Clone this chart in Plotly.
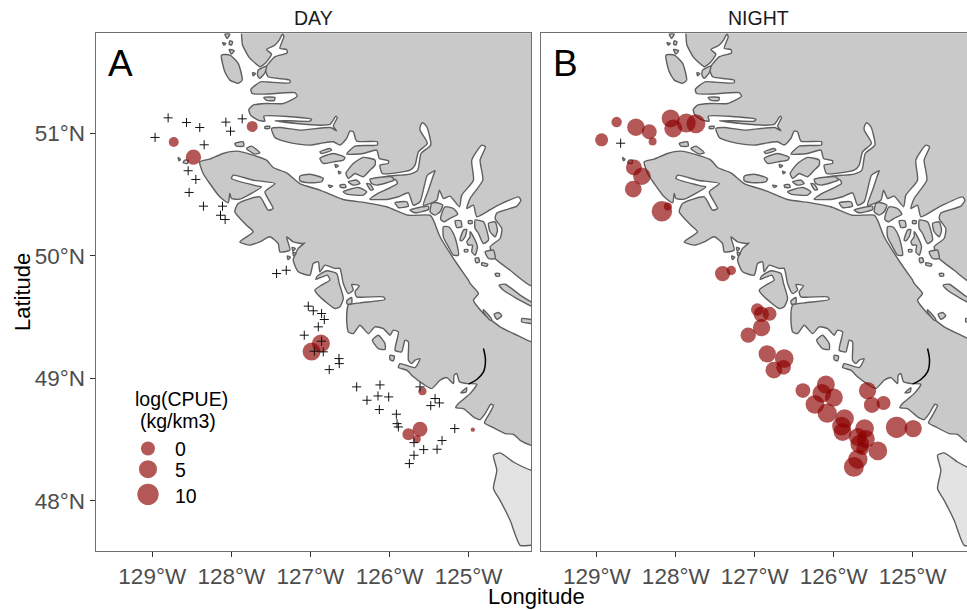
import math
import plotly.graph_objects as go

# ---------------- coastline (lon, lat) ----------------
MAINLAND = [(-127.892,51.816),(-127.879,51.721),(-127.796,51.620),(-127.717,51.571),(-127.663,51.544),(-127.588,51.577),(-127.517,51.647),(-127.579,51.685),(-127.483,51.718),(-127.421,51.762),(-127.379,51.811),(-127.363,51.789),(-127.413,51.694),(-127.329,51.685),(-127.321,51.658),(-127.471,51.626),(-127.546,51.577),(-127.596,51.530),(-127.558,51.462),(-127.288,51.435),(-127.288,51.413),(-127.558,51.419),(-127.654,51.421),(-127.775,51.359),(-127.758,51.326),(-127.579,51.321),(-127.225,51.332),(-127.196,51.304),(-127.371,51.244),(-127.579,51.244),(-127.746,51.231),(-127.8,51.195),(-127.779,51.149),(-127.683,51.108),(-127.6,51.100),(-127.613,51.141),(-127.288,51.136),(-127.017,51.116),(-127.038,51.100),(-127.288,51.103),(-127.475,51.103),(-127.204,51.081),(-126.913,51.067),(-126.788,51.073),(-126.713,51.141),(-126.696,51.130),(-126.746,51.059),(-126.704,51.021),(-126.779,51.048),(-127.163,51.027),(-127.413,51.048),(-127.517,51.040),(-127.475,50.967),(-127.329,50.931),(-127.183,50.912),(-127.017,50.905),
 (-126.913,50.918),(-126.746,50.932),(-126.663,50.905),(-126.579,50.959),(-126.538,51.019),(-126.496,51.013),(-126.454,50.937),(-126.196,50.932),(-126.196,50.905),(-126.475,50.896),(-126.579,50.831),(-126.371,50.836),(-126.204,50.864),(-126.171,50.796),(-126.058,50.777),(-126.058,50.755),(-126.163,50.741),(-126.133,50.673),(-125.788,50.700),(-125.725,50.741),(-125.683,50.850),(-125.571,50.918),(-125.663,51.027),(-125.654,51.068),(-125.629,51.087),(-125.579,51.054),(-125.529,50.905),(-125.65,50.836),(-125.692,50.700),(-125.788,50.668),(-126.121,50.646),(-125.963,50.619),(-125.946,50.591),(-126.204,50.504),(-126.288,50.463),(-126.058,50.463),(-125.933,50.483),(-125.808,50.515),(-125.746,50.414),(-125.663,50.442),(-125.571,50.659),(-125.475,50.695),(-125.496,50.659),(-125.558,50.537),(-125.621,50.414),
 (-125.454,50.455),(-125.421,50.537),(-125.371,50.469),(-125.288,50.488),(-125.171,50.401),(-125.142,50.496),(-124.996,50.618),(-125.017,50.782),(-124.892,50.904),(-124.846,50.891),(-124.913,50.782),(-124.879,50.618),(-125.038,50.469),(-125.079,50.387),(-124.996,50.414),(-124.954,50.319),(-124.725,50.401),(-124.433,50.482),(-124.404,50.455),(-124.454,50.406),(-124.704,50.351),(-124.725,50.305),(-124.642,50.224),(-124.663,50.142),(-124.788,50.074),(-124.725,49.979),(-124.538,49.883),(-124.275,49.755),(-123.9,49.755),(-123.9,52.1),(-127.892,52.1)]

VANCOUVER_ISLAND = [(-128.413,50.768),(-128.288,50.790),(-128.121,50.836),(-127.954,50.855),(-127.746,50.822),(-127.579,50.782),(-127.496,50.722),(-127.329,50.678),(-127.163,50.591),(-126.913,50.537),(-126.621,50.460),(-126.329,50.433),(-126.079,50.401),(-125.808,50.332),(-125.538,50.332),(-125.496,50.292),(-125.413,50.156),(-125.204,49.938),(-125.058,49.802),(-125.038,49.775),(-124.933,49.693),(-124.996,49.639),(-124.871,49.530),(-124.663,49.421),(-124.454,49.353),(-124.275,49.298),(-123.9,49.258),(-123.9,48.400),(-124.275,48.454),(-124.413,48.495),(-124.496,48.544),(-124.6,48.550),(-124.767,48.604),(-124.858,48.637),(-124.808,48.700),(-124.746,48.781),(-124.779,48.789),(-124.85,48.713),(-124.913,48.664),(-124.996,48.686),(-125.121,48.754),(-125.217,48.762),(-125.183,48.795),(-125.038,48.876),(-124.954,48.953),(-125.079,48.958),(-125.171,48.972),(-125.204,49.040),(-125.238,49.026),(-125.246,48.958),(-125.329,49.007),(-125.413,48.985),(-125.517,48.917),(-125.621,48.953),(-125.746,49.013),(-125.829,49.067),(-125.933,49.089),(-125.913,49.121),(-125.725,49.089),(-125.663,49.162),(-125.725,49.149),(-125.767,49.121),(-125.808,49.149),(-125.808,49.298),(-125.85,49.312),(-125.892,49.217),(-125.975,49.230),(-125.933,49.380),(-125.996,49.394),(-126.038,49.353),(-126.121,49.407),(-126.225,49.421),(-126.308,49.366),(-126.413,49.434),(-126.496,49.366),(-126.558,49.380),
 (-126.579,49.476),(-126.558,49.598),(-126.413,49.617),(-126.1,49.644),(-126.121,49.666),(-126.454,49.666),(-126.475,49.707),(-126.421,49.756),(-126.517,49.767),(-126.496,49.721),(-126.558,49.693),(-126.621,49.775),(-126.663,49.898),(-126.725,49.898),(-126.85,49.925),(-126.913,49.870),(-126.933,49.952),(-126.996,49.938),(-127.038,49.843),(-127.183,49.870),(-127.246,49.966),(-127.183,50.061),(-127.100,50.107),
 (-127.121,50.101),(-127.246,50.115),(-127.329,50.156),(-127.288,50.047),(-127.413,50.033),(-127.433,50.101),(-127.538,50.156),(-127.663,50.115),(-127.788,50.088),(-127.913,50.115),(-127.746,50.196),(-127.829,50.251),(-127.975,50.360),(-127.933,50.428),(-127.663,50.482),(-127.558,50.373),(-127.496,50.387),(-127.6,50.523),(-127.475,50.591),(-127.746,50.618),(-127.996,50.659),(-128.017,50.632),(-127.704,50.572),(-127.642,50.564),(-127.913,50.463),(-128.017,50.469),(-128.038,50.509),(-128.058,50.433),(-128.163,50.482),(-128.288,50.591),(-128.371,50.673),(-128.413,50.768)]

WASHINGTON = [(-124.746,48.373),(-124.663,48.392),(-124.496,48.318),(-124.275,48.250),(-123.9,48.196),(-123.9,47.638),(-124.275,47.638),(-124.413,47.638),(-124.538,47.842),(-124.663,48.005),(-124.746,48.101),(-124.704,48.250),(-124.746,48.373)]

ISLANDS = [
 [(-128.142,51.639),(-128.037,51.639),(-127.933,51.571),(-127.883,51.435),(-127.933,51.408),(-128.037,51.435),(-128.1,51.503)],
 [(-128.1,51.811),(-128.037,51.811),(-128.071,51.775)],
 [(-128.037,51.756),(-128.004,51.748),(-128.017,51.721),(-128.046,51.729)],
 [(-128.129,51.740),(-128.087,51.734),(-128.113,51.721)],
 [(-128.046,51.685),(-127.983,51.675),(-128.017,51.647)],
 [(-127.754,51.495),(-127.717,51.489),(-127.746,51.470)],
 [(-127.683,51.517),(-127.579,51.549),(-127.6,51.495),(-127.663,51.449),(-127.692,51.476)],
 [(-127.613,51.293),(-127.475,51.293),(-127.483,51.269),(-127.579,51.269)],
 [(-127.975,50.918),(-127.871,50.931),(-127.863,50.896),(-127.954,50.896)],
 [(-127.829,50.877),(-127.767,50.896),(-127.663,50.842),(-127.725,50.831)],
 [(-127.6,51.054),(-127.538,51.059),(-127.546,51.040),(-127.6,51.040)],
 [(-128.683,50.803),(-128.654,50.787),(-128.671,50.776)],
 [(-128.6,50.782),(-128.558,50.782),(-128.567,50.754),(-128.621,50.760)],
 [(-127.26,50.07),(-127.22,50.06),(-127.25,50.04)],
 [(-127.32,50.00),(-127.28,49.99),(-127.31,49.97)],
 [(-127.25,50.03),(-127.21,50.02),(-127.24,50.00)],
 # Johnstone Strait and Discovery Islands
 [(-126.913,50.850),(-126.788,50.877),(-126.767,50.864),(-126.892,50.836)],
 [(-126.913,50.796),(-126.746,50.836),(-126.6,50.804),(-126.621,50.782),(-126.746,50.768),(-126.871,50.755)],
 [(-126.725,50.747),(-126.683,50.736),(-126.713,50.722)],
 [(-126.683,50.692),(-126.65,50.681),(-126.675,50.670)],
 [(-126.588,50.673),(-126.496,50.755),(-126.371,50.804),(-126.225,50.782),(-126.225,50.741),(-126.288,50.700),(-126.371,50.646),(-126.475,50.673),(-126.558,50.632)],
 [(-127.163,50.651),(-127.038,50.667),(-126.871,50.632),(-126.892,50.605),(-127.038,50.597),(-127.163,50.613)],
 [(-126.558,50.605),(-126.454,50.619),(-126.413,50.591),(-126.496,50.578)],
 [(-126.663,50.578),(-126.6,50.583),(-126.588,50.559),(-126.654,50.559)],
 [(-126.808,50.578),(-126.754,50.570),(-126.788,50.559)],
 [(-126.621,50.523),(-126.433,50.559),(-126.329,50.523),(-126.371,50.496),(-126.579,50.504)],
 [(-126.288,50.624),(-126.017,50.646),(-125.988,50.619),(-126.204,50.578),(-126.267,50.591)],
 [(-126.329,50.591),(-126.288,50.586),(-126.246,50.542),(-126.279,50.537)],
 [(-125.975,50.434),(-125.829,50.442),(-125.808,50.406),(-125.933,50.395)],
 [(-125.788,50.374),(-125.558,50.406),(-125.558,50.379),(-125.725,50.352)],
 # Desolation Sound group
 [(-125.517,50.428),(-125.454,50.434),(-125.379,50.415),(-125.413,50.360),(-125.475,50.333),(-125.537,50.360)],
 [(-125.35,50.401),(-125.246,50.387),(-125.192,50.341),(-125.288,50.306),(-125.363,50.278),(-125.404,50.297),(-125.392,50.346)],
 [(-125.225,50.287),(-125.154,50.287),(-125.142,50.238),(-125.204,50.232)],
 [(-125.058,50.287),(-125.013,50.287),(-125.013,50.265),(-125.058,50.265)],
 [(-124.975,50.292),(-124.871,50.278),(-124.808,50.129),(-124.871,50.101),(-124.933,50.183),(-124.975,50.224)],
 [(-124.808,50.265),(-124.725,50.278),(-124.696,50.210),(-124.725,50.156),(-124.788,50.197)],
 [(-125.121,50.210),(-125.079,50.216),(-125.1,50.156),(-125.142,50.123),(-125.163,50.129)],
 [(-125.038,50.197),(-124.996,50.156),(-124.946,50.074),(-124.975,50.006),(-125.017,50.033),(-125.008,50.088),(-125.058,50.088),(-125.079,50.115),(-125.038,50.156)],
 [(-125.108,50.052),(-125.067,50.052),(-125.067,50.033),(-125.108,50.033)],
 [(-125.371,50.238),(-125.308,50.238),(-125.246,50.183),(-125.204,50.101),(-125.183,50.006),(-125.246,50.006),(-125.308,50.074),(-125.371,50.156)],
 [(-124.85,50.033),(-124.746,50.047),(-124.725,49.979),(-124.808,49.979)],
 [(-124.975,49.979),(-124.933,49.984),(-124.921,49.952),(-124.963,49.944)],
 [(-124.892,49.944),(-124.817,49.933),(-124.829,49.916),(-124.892,49.925)],
 [(-124.725,49.856),(-124.671,49.856),(-124.671,49.835),(-124.713,49.835)],
 # Strait of Georgia and west coast
 [(-124.675,49.761),(-124.6,49.769),(-124.413,49.680),(-124.275,49.625),(-124.1,49.571),(-124.1,49.530),(-124.275,49.590),(-124.454,49.652),(-124.621,49.720)],
 [(-124.392,49.489),(-124.275,49.481),(-124.1,49.462),(-124.1,49.434),(-124.275,49.448),(-124.392,49.462)],
 [(-124.871,49.562),(-124.767,49.481),(-124.788,49.475),(-124.871,49.543)],
 [(-124.738,49.524),(-124.683,49.538),(-124.642,49.511),(-124.704,49.483)],
 [(-125.121,48.904),(-125.079,48.925),(-125.088,48.890),(-125.154,48.882)],
 [(-126.258,49.312),(-126.183,49.353),(-126.1,49.285),(-126.1,49.236),(-126.183,49.244)],
 [(-126.038,49.189),(-125.983,49.181),(-125.996,49.143),(-126.038,49.154)],
 [(-126.579,49.633),(-126.517,49.661),(-126.517,49.612),(-126.571,49.606)],
 # Nootka Island
 [(-126.975,49.721),(-126.892,49.762),(-126.788,49.802),(-126.821,49.843),(-126.963,49.808),(-126.946,49.835),(-126.829,49.879),(-126.704,49.857),(-126.671,49.775),(-126.621,49.653),(-126.663,49.585),(-126.725,49.571),(-126.913,49.666)],
]
ALBERNI_INLET = [(-124.871,49.244),(-124.846,49.149),(-124.871,49.053),(-124.954,48.991),(-125.058,48.953)]

# ---------------- survey sets ----------------
DAY_ZERO_LON = [-128.808,-128.579,-128.413,-128.971,-128.358,-128.087,-127.883,-128.029,-128.558,-128.462,-128.546,-128.367,-128.129,-128.154,-128.096,-127.454,-127.333,-127.058,-126.996,-126.892,-126.858,-126.933,-127.108,-126.892,-126.983,-126.871,-126.675,-126.671,-126.796,-126.454,-126.163,-126.325,-126.188,-126.054,-126.171,-125.663,-125.475,-125.421,-125.529,-125.958,-125.95,-125.933,-125.738,-125.617,-125.738,-125.796,-125.388,-125.45,-125.229]
DAY_ZERO_LAT = [51.127,51.089,51.048,50.967,50.907,51.092,51.119,51.018,50.695,50.624,50.518,50.406,50.406,50.332,50.297,49.856,49.883,49.590,49.552,49.530,49.481,49.421,49.353,49.304,49.222,49.217,49.162,49.121,49.072,48.931,48.947,48.822,48.857,48.849,48.746,48.931,48.836,48.800,48.778,48.708,48.631,48.604,48.476,48.419,48.373,48.305,48.493,48.422,48.591]
DAY_LON = [-128.738,-128.492,-127.758,-126.9,-127.017,-125.633,-125.808,-125.663,-125.704,-125.004]
DAY_LAT = [50.929,50.806,51.057,49.285,49.219,48.895,48.544,48.585,48.506,48.582]
DAY_CPUE = [-3.7,1.5,-2.9,4.9,4.9,-5,-2,1.1,-5,-6.8]

NIGHT_ZERO_LON = [-128.708]
NIGHT_ZERO_LAT = [50.920]
NIGHT_LON = [-128.758,-128.517,-128.35,-128.308,-128.946,-128.083,-128.05,-127.888,-127.767,-128.542,-128.442,-128.55,-128.192,-128.117,-127.433,-127.325,-127.0,-126.846,-126.95,-126.946,-127.113,-126.875,-126.663,-126.671,-126.792,-126.429,-126.142,-126.192,-126.042,-126.279,-126.125,-125.621,-125.567,-125.421,-125.908,-125.946,-125.933,-125.658,-125.742,-125.642,-125.717,-125.683,-125.492,-125.742,-125.792,-125.258,-125.05]
NIGHT_LAT = [51.092,51.051,51.013,50.934,50.948,51.122,51.040,51.084,51.078,50.722,50.651,50.545,50.365,50.403,49.856,49.881,49.562,49.527,49.524,49.415,49.353,49.200,49.162,49.091,49.067,48.901,48.950,48.879,48.844,48.789,48.716,48.901,48.784,48.800,48.672,48.610,48.563,48.591,48.522,48.506,48.463,48.427,48.408,48.340,48.278,48.601,48.591]
NIGHT_CPUE = [-3.3,4.2,1.1,-5.1,-1,4.9,4.9,6.3,6.3,2.3,4.2,3.2,8.6,-5.1,1.5,-4.1,-1.5,0,1.5,4,1.5,4,5.9,0.8,3.2,0.8,4.9,5.9,4.9,5.9,6.8,4,2.3,0,5.9,5.9,4.9,5.9,4.9,4.9,5.9,-1.3,5.9,6.8,7.8,9.9,4]

LEGEND_VALUES = [0, 5, 10]
LEGEND_LON = [-129.054, -129.054, -129.054]
LEGEND_LAT = [48.428, 48.259, 48.054]
LON_TICKS = [-129, -128, -127, -126, -125]
LON_LABELS = ["129°W", "128°W", "127°W", "126°W", "125°W"]
LAT_TICKS = [48, 49, 50, 51]
LAT_LABELS = ["48°N", "49°N", "50°N", "51°N"]

LAND = "#C9C9C9"; FAR_LAND = "#E3E3E3"; COAST = "#5F5F5F"
DOT = "rgba(139,0,0,0.66)"; FONT = "Liberation Sans"; W, H = 967, 610


def calib(lon):
    """Correct the digitised longitudes to the tick spacing of the axis."""
    return -129 + (0.5 + 80 * (lon + 129)) / 79


def size(v):
    """Area-proportional point size for a log(CPUE) value."""
    return math.sqrt(max(196 + 26 * v, 10))


def ring(points):
    return [calib(p[0]) for p in points], [p[1] for p in points]


def islands():
    xs, ys = [], []
    for isl in ISLANDS:
        x, y = ring(isl + [isl[0]])
        xs += x + [None]
        ys += y + [None]
    return xs, ys


fig = go.Figure()
for xa, ya, lons, lats, vals, zlon, zlat in [
    ("x", "y", DAY_LON, DAY_LAT, DAY_CPUE, DAY_ZERO_LON, DAY_ZERO_LAT),
    ("x2", "y2", NIGHT_LON, NIGHT_LAT, NIGHT_CPUE, NIGHT_ZERO_LON, NIGHT_ZERO_LAT),
]:
    line = dict(color=COAST, width=1.4, shape="spline", smoothing=0.55)
    for poly, fc in [(WASHINGTON, FAR_LAND), (MAINLAND, LAND), (VANCOUVER_ISLAND, LAND)]:
        x, y = ring(poly)
        fig.add_trace(go.Scatter(x=x, y=y, mode="lines", fill="toself", fillcolor=fc, line=line,
                                 xaxis=xa, yaxis=ya, showlegend=False, hoverinfo="skip"))
    x, y = islands()
    fig.add_trace(go.Scatter(x=x, y=y, mode="lines", fill="toself", fillcolor=LAND, line=line,
                             xaxis=xa, yaxis=ya, showlegend=False, hoverinfo="skip"))
    x, y = ring(ALBERNI_INLET)
    fig.add_trace(go.Scatter(x=x, y=y, mode="lines", line=dict(color="black", width=1.5, shape="spline"),
                             xaxis=xa, yaxis=ya, showlegend=False, hoverinfo="skip"))
    fig.add_trace(go.Scatter(x=[calib(v) for v in lons], y=lats, mode="markers",
                             marker=dict(size=[size(v) for v in vals], color=DOT, opacity=1, line_width=0),
                             xaxis=xa, yaxis=ya, showlegend=False))
    fig.add_trace(go.Scatter(x=[calib(v) for v in zlon], y=zlat, mode="markers",
                             marker=dict(symbol="cross-thin", size=6.5, line=dict(color="#111111", width=1)),
                             xaxis=xa, yaxis=ya, showlegend=False))

fig.add_trace(go.Scatter(x=LEGEND_LON, y=LEGEND_LAT, mode="markers",
                         marker=dict(size=[size(v) for v in LEGEND_VALUES], color=DOT, opacity=1, line_width=0),
                         xaxis="x", yaxis="y", showlegend=False))

xrange_span = 435 / 79
axis_common = dict(showgrid=False, zeroline=False, showline=True, linecolor="#707070", linewidth=1.3,
                   ticks="outside", ticklen=5, tickcolor="#333333", tickwidth=1,
                   tickfont=dict(family=FONT, size=22.5, color="#4D4D4D"))
fig.update_layout(
    width=W, height=H, autosize=False, margin=dict(l=0, r=0, t=0, b=0), showlegend=False,
    paper_bgcolor="white", plot_bgcolor="white", font=dict(family=FONT, color="black"),
    xaxis=dict(axis_common, domain=[95.7 / W, 531.2 / W], range=[-129.715, -129.715 + xrange_span],
               tickvals=LON_TICKS, ticktext=LON_LABELS, mirror=True, anchor="y"),
    yaxis=dict(axis_common, domain=[1 - 551.3 / H, 1 - 33.3 / H], range=[47.589, 51.817],
               tickvals=LAT_TICKS, ticktext=LAT_LABELS, mirror=True, anchor="x"),
    xaxis2=dict(axis_common, domain=[540.7 / W, 1], range=[-129.71, -129 + 370.3 / 79],
                tickvals=LON_TICKS, ticktext=LON_LABELS, mirror=True, anchor="y2"),
    yaxis2=dict(showgrid=False, zeroline=False, showline=True, linecolor="#707070", linewidth=1.3,
                domain=[1 - 551.3 / H, 1 - 33.3 / H], range=[47.589, 51.817],
                showticklabels=False, ticks="", mirror=False, anchor="x2"),
)


def label(text, x, y, size_, color="black", angle=0):
    fig.add_annotation(text=text, xref="paper", yref="paper", x=x / W, y=1 - y / H, showarrow=False,
                       font=dict(family=FONT, size=size_, color=color), textangle=angle,
                       xanchor="center", yanchor="middle")


label("DAY", 313, 18, 19.5, "#1A1A1A")
label("NIGHT", 758, 18, 19.5, "#1A1A1A")
label("A", 120, 63, 37)
label("B", 565, 63, 37)
label("Longitude", 536, 596, 22)
label("Latitude", 22, 292, 22, angle=-90)
label("log(CPUE)", 181.7, 399, 19.5)
label("(kg/km3)", 178, 421, 19.5)
for v, y in zip(LEGEND_VALUES, [449, 470, 496]):
    fig.add_annotation(text=str(v), xref="paper", yref="paper", x=172.5 / W, y=1 - y / H, showarrow=False,
                       font=dict(family=FONT, size=19.5, color="black"), xanchor="left", yanchor="middle")

fig.write_html("out.html", config={"displayModeBar": False},
               post_script="document.body.style.margin='0';")
